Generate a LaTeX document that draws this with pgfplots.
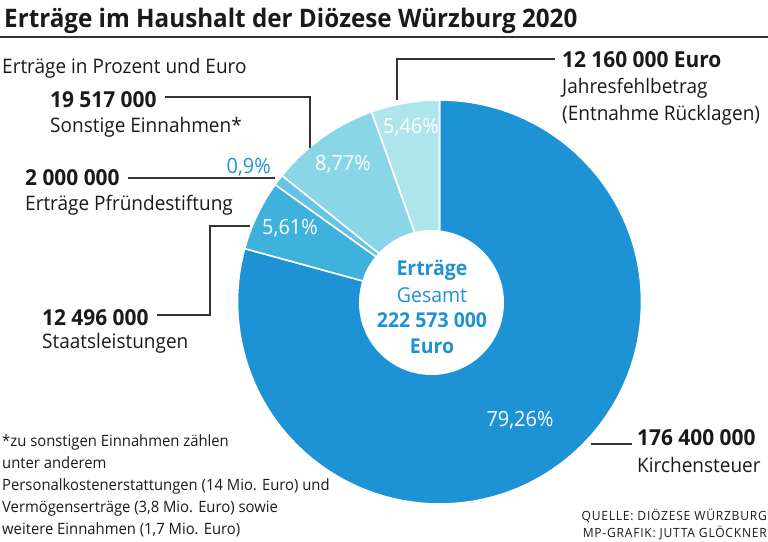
\documentclass[border=0pt]{standalone}
\usepackage{fontspec}
\setmainfont{Open Sans}[FakeStretch=0.95]
\newfontfamily\srcfont{Open Sans}[FakeStretch=0.95,LetterSpace=6]
\usepackage{pgfplots}
\usepackage{pgfplotstable}
\pgfplotsset{compat=1.18}
\definecolor{cK}{RGB}{29,147,214}
\definecolor{cS}{RGB}{62,178,220}
\definecolor{cP}{RGB}{100,196,226}
\definecolor{cO}{RGB}{137,215,230}
\definecolor{cJ}{RGB}{174,228,236}
\definecolor{txt}{RGB}{26,26,26}
\definecolor{ln}{RGB}{51,51,51}
\pgfplotstableread{
name value pct
Kirchensteuer 176400000 79.26
Staatsleistungen 12496000 5.61
Pfruendestiftung 2000000 0.90
Sonstige 19517000 8.77
Jahresfehlbetrag 12160000 5.46
}\data
\newcommand\fs[1]{\fontsize{#1}{#1}\selectfont}
\newcommand\pieslice[2]{%
  \filldraw[fill=#2, draw=white, line width=1.6pt, line join=round]
    (axis cs:439.5,302) -- ++(\csname angS#1\endcsname:202pt)
    arc[start angle=\csname angS#1\endcsname, end angle=\csname angE#1\endcsname, radius=202pt] -- cycle;}
\begin{document}
\begin{tikzpicture}
\xdef\acc{90}
\foreach \i in {0,...,4}{%
  \pgfplotstablegetelem{\i}{pct}\of\data
  \pgfmathsetmacro\newacc{\acc-\pgfplotsretval*3.6}%
  \expandafter\xdef\csname angS\i\endcsname{\acc}%
  \expandafter\xdef\csname angE\i\endcsname{\newacc}%
  \xdef\acc{\newacc}%
}
\begin{axis}[
  hide axis, scale only axis, clip=false,
  width=768pt, height=541pt,
  xmin=0, xmax=768, ymin=0, ymax=541, y dir=reverse,
]
\pieslice{0}{cK}
\pieslice{1}{cS}
\pieslice{2}{cP}
\pieslice{3}{cO}
\pieslice{4}{cJ}
\fill[white] (axis cs:431.5,302.5) circle[radius=72.5pt];
% center text
\node[anchor=base, text=cK, font=\fs{20.5}\bfseries] at (axis cs:432,275) {Erträge};
\node[anchor=base, text=cK, font=\fs{20.5}] at (axis cs:432,302) {Gesamt};
\node[anchor=base, text=cK, font=\fs{20.5}\bfseries] at (axis cs:432,327) {222 573 000};
\node[anchor=base, text=cK, font=\fs{20.5}\bfseries] at (axis cs:432,353) {Euro};
% percent labels
\node[text=white, font=\fs{21}] at (axis cs:411,127) {5,46\%};
\node[text=white, font=\fs{21}] at (axis cs:343,164) {8,77\%};
\node[text=white, font=\fs{21}] at (axis cs:290,228) {5,61\%};
\node[text=white, font=\fs{21}] at (axis cs:520,420) {79,26\%};
\node[text=cK, font=\fs{21}, anchor=base east, inner sep=0pt] at (axis cs:271,173) {0,9\%};
% title
\node[anchor=base west, inner sep=0pt, text=txt, font=\fs{25.5}\bfseries] at (axis cs:4,27) {Erträge im Haushalt der Diözese Würzburg 2020};
\draw[ln, line width=2pt] (axis cs:0,37) -- (axis cs:768,37);
\node[anchor=base west, inner sep=0pt, text=txt, font=\fs{20}] at (axis cs:2,73) {Erträge in Prozent und Euro};
% leader lines
\draw[ln, line width=1.4pt] (axis cs:165,97) -- (axis cs:310,97) -- (axis cs:310,148);
\draw[ln, line width=1.4pt] (axis cs:128,178) -- (axis cs:275,178);
\draw[ln, line width=1.4pt] (axis cs:250,226) -- (axis cs:210,226) -- (axis cs:210,315) -- (axis cs:157,315);
\draw[ln, line width=1.4pt] (axis cs:397,100) -- (axis cs:397,59) -- (axis cs:555,59);
\draw[ln, line width=1.4pt] (axis cs:591,444) -- (axis cs:632,444);
% labels
\node[anchor=base west, inner sep=0pt, text=txt, font=\fs{22}\bfseries] at (axis cs:50,107) {19 517 000};
\node[anchor=base west, inner sep=0pt, text=txt, font=\fs{20}] at (axis cs:50,132) {Sonstige Einnahmen*};
\node[anchor=base west, inner sep=0pt, text=txt, font=\fs{22}\bfseries] at (axis cs:25,185) {2 000 000};
\node[anchor=base west, inner sep=0pt, text=txt, font=\fs{20}] at (axis cs:25,210) {Erträge Pfründestiftung};
\node[anchor=base west, inner sep=0pt, text=txt, font=\fs{22}\bfseries] at (axis cs:42,325) {12 496 000};
\node[anchor=base west, inner sep=0pt, text=txt, font=\fs{20}] at (axis cs:42,348) {Staatsleistungen};
\node[anchor=base west, inner sep=0pt, text=txt, font=\fs{22}\bfseries] at (axis cs:562,67) {12 160 000 Euro};
\node[anchor=base west, inner sep=0pt, text=txt, font=\fs{20}] at (axis cs:562,93) {Jahresfehlbetrag};
\node[anchor=base west, inner sep=0pt, text=txt, font=\fs{20}] at (axis cs:562,120) {(Entnahme Rücklagen)};
\node[anchor=base west, inner sep=0pt, text=txt, font=\fs{22}\bfseries] at (axis cs:637,445) {176 400 000};
\node[anchor=base west, inner sep=0pt, text=txt, font=\fs{20}] at (axis cs:637,472) {Kirchensteuer};
% footnote
\node[anchor=base west, inner sep=0pt, text=txt, font=\fs{15.6}] at (axis cs:2,446) {*zu sonstigen Einnahmen zählen};
\node[anchor=base west, inner sep=0pt, text=txt, font=\fs{15.6}] at (axis cs:2,468) {unter anderem};
\node[anchor=base west, inner sep=0pt, text=txt, font=\fs{15.6}] at (axis cs:2,490) {Personalkostenerstattungen (14 Mio. Euro) und};
\node[anchor=base west, inner sep=0pt, text=txt, font=\fs{15.6}] at (axis cs:2,512) {Vermögenserträge (3,8 Mio. Euro) sowie};
\node[anchor=base west, inner sep=0pt, text=txt, font=\fs{15.6}] at (axis cs:2,534) {weitere Einnahmen (1,7 Mio. Euro)};
% source
\node[anchor=base east, inner sep=0pt, text=txt, font=\fs{12.7}\srcfont] at (axis cs:767,520) {QUELLE: DIÖZESE WÜRZBURG};
\node[anchor=base east, inner sep=0pt, text=txt, font=\fs{12.7}\srcfont] at (axis cs:767,537) {MP-GRAFIK: JUTTA GLÖCKNER};
\end{axis}
\pgfresetboundingbox
\path (current axis.south west) (current axis.north east);
\end{tikzpicture}
\end{document}
